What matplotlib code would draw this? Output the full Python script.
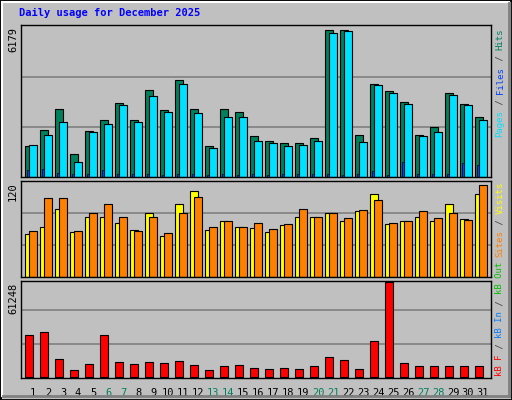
import matplotlib
matplotlib.use("Agg")
import matplotlib.pyplot as plt
import numpy as np
from matplotlib.patches import Rectangle
from matplotlib.lines import Line2D

days = list(range(1, 32))
day_labels = [str(d) for d in days]
weekends = [6, 7, 13, 14, 20, 21, 27, 28]

hits = [1270, 1920, 2800, 950, 1900, 2360, 3040, 2330, 3580, 2770, 4000, 2800, 1280, 2800, 2680, 1700, 1480, 1420, 1420, 1600, 6070, 6070, 1740, 3830, 3560, 3080, 1740, 2070, 3480, 3020, 2490]
files = [1330, 1740, 2280, 630, 1850, 2190, 2950, 2280, 3320, 2690, 3830, 2650, 1190, 2490, 2490, 1480, 1410, 1290, 1330, 1480, 5940, 6030, 1460, 3790, 3470, 3020, 1690, 1850, 3380, 2970, 2360]
pages = [300, 340, 180, 140, 140, 300, 140, 140, 140, 100, 140, 140, 100, 140, 100, 140, 100, 140, 140, 140, 140, 100, 140, 260, 100, 630, 140, 140, 140, 590, 510]
visits = [54, 63, 85, 57, 76, 76, 68, 59, 81, 51, 92, 108, 59, 71, 63, 62, 57, 66, 75, 75, 80, 71, 83, 105, 67, 71, 76, 70, 92, 73, 105]
sites = [58, 99, 100, 58, 80, 92, 75, 58, 75, 55, 81, 101, 63, 71, 63, 68, 61, 67, 85, 76, 81, 74, 84, 97, 68, 71, 83, 74, 80, 72, 116]
kbytes = [25570, 27430, 10930, 4540, 7730, 25570, 9140, 7730, 9140, 8430, 9690, 7050, 3990, 6580, 7050, 5770, 5160, 5770, 5160, 6580, 12270, 10310, 5160, 21690, 57850, 8430, 6580, 6580, 6580, 6580, 6580]
max_hits, max_visits, max_kb = 6179, 120, 61248

BG = "#C0C0C0"
fig = plt.figure(figsize=(5.12, 4.0), dpi=100, facecolor=BG)
mono = "DejaVu Sans Mono"
W, H = 512, 400

def fx(px): return px / W
def fy(py): return 1 - py / H

x = np.array(days)
left, right = 20.7, 490.7
panels = [(25, 177), (180.7, 277), (280.7, 378)]
axs = []
for (t, b) in panels:
    ax = fig.add_axes([fx(left), fy(b), (right - left) / W, (b - t) / H])
    ax.set_facecolor(BG)
    ax.set_xlim(0.18, 31.51)
    for s in ax.spines.values():
        s.set_color("black"); s.set_linewidth(1)
    ax.tick_params(left=False, bottom=False, labelleft=False, labelbottom=False)
    axs.append(ax)

bw = 0.49
ax = axs[0]
ax.set_ylim(0, max_hits * 456 / 450)
ax.set_yticks([max_hits / 3, 2 * max_hits / 3]); ax.grid(axis="y", color="#808080", lw=1.2); ax.set_axisbelow(True)
ax.bar(x - 0.51, hits, width=bw, align="edge", color="#00805C", edgecolor="black", lw=0.8)
ax.bar(x - 0.24, files, width=bw, align="edge", color="#00E0FF", edgecolor="black", lw=0.8)
ax.bar(x - 0.42, pages, width=0.15, align="edge", color="#0040FF", edgecolor="black", lw=0.5)

ax = axs[1]
ax.set_ylim(0, max_visits * 288 / 285)
ax.set_yticks([max_visits / 3, 2 * max_visits / 3]); ax.grid(axis="y", color="#808080", lw=1.2); ax.set_axisbelow(True)
ax.bar(x - 0.51, visits, width=bw, align="edge", color="#FFFF00", edgecolor="black", lw=0.8)
ax.bar(x - 0.24, sites, width=bw, align="edge", color="#FF8000", edgecolor="black", lw=0.8)

ax = axs[2]
ax.set_ylim(-max_kb * 3 / 297, max_kb * 285 / 297)
ax.set_yticks([max_kb / 3, 2 * max_kb / 3]); ax.grid(axis="y", color="#808080", lw=1.2); ax.set_axisbelow(True)
ax.bar(x - 0.51, kbytes, width=bw, align="edge", color="#FF0000", edgecolor="black", lw=0.8)
ax.set_xticks(x)
ax.tick_params(labelbottom=True, pad=4)
ax.set_xticklabels(day_labels, fontfamily=mono, fontsize=7.5)
for lab, d in zip(ax.get_xticklabels(), days):
    lab.set_color("#00805C" if d in weekends else "black")

fig.text(fx(19), fy(16), "Daily usage for December 2025", color="#0000FF", fontfamily=mono,
         fontweight="bold", fontsize=7.5, va="baseline")
for txt, top in [("6179", 27), ("120", 182), ("61248", 283)]:
    fig.text(fx(13), fy(top), txt, rotation=90, ha="center", va="top", fontfamily=mono, fontsize=7.5)

fs = 6.5
cw = 0.602 * fs * 100 / 72
def vlabel(parts, bottom_py):
    y = bottom_py
    for s, c in parts:
        fig.text(fx(500), fy(y), s, rotation=90, ha="center", va="bottom", color=c,
                 fontfamily=mono, fontsize=fs)
        y -= cw * len(s)

vlabel([("Pages", "#00E0FF"), (" / ", "#404040"), ("Files", "#0040FF"), (" / ", "#404040"), ("Hits", "#00805C")], 137)
vlabel([("Sites", "#FF8000"), (" / ", "#404040"), ("Visits", "#FFFF00")], 257)
vlabel([("kB F", "#FF0000"), (" / ", "#404040"), ("kB In", "#0080FF"), (" / ", "#404040"), ("kB Out", "#00C000")], 376)

# 3D border
fig.add_artist(Rectangle((0, 0), 1, 1, transform=fig.transFigure, fill=False, ec="black", lw=2))
fig.add_artist(Line2D([fx(2), fx(2)], [fy(2), fy(396)], transform=fig.transFigure, color="white", lw=1.5))
fig.add_artist(Line2D([fx(2), fx(509)], [fy(2), fy(2)], transform=fig.transFigure, color="white", lw=1.5))
fig.add_artist(Line2D([fx(3), fx(509)], [fy(396), fy(396)], transform=fig.transFigure, color="#808080", lw=2))
fig.add_artist(Line2D([fx(509), fx(509)], [fy(3), fy(396)], transform=fig.transFigure, color="#808080", lw=2))

fig.savefig("out.png", dpi=100, facecolor=BG)
